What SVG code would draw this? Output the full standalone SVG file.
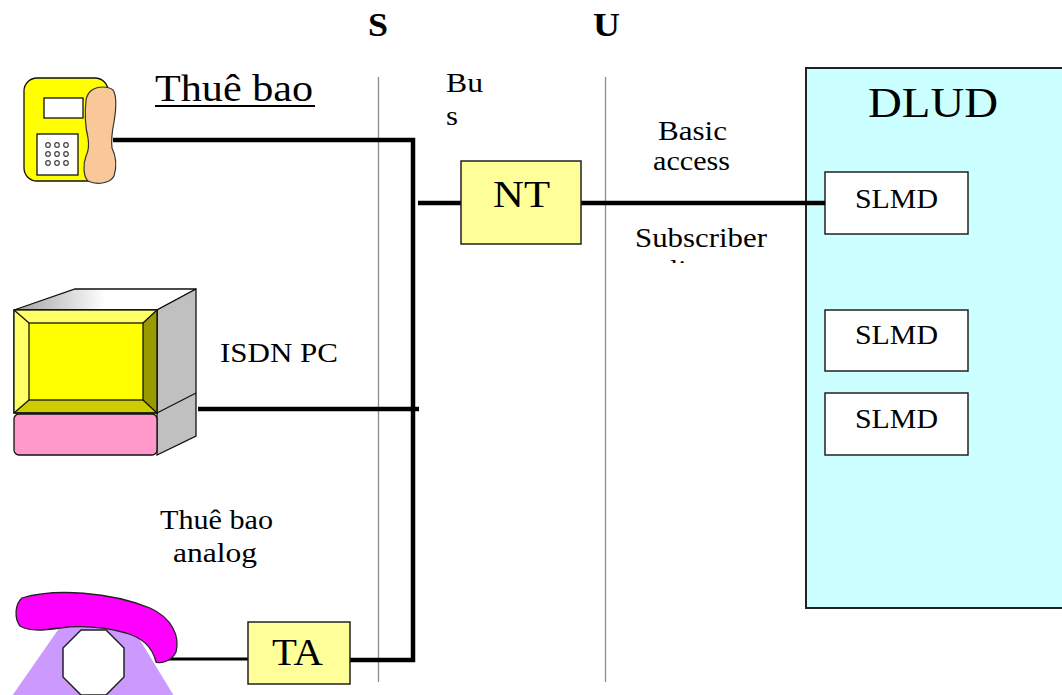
<svg xmlns="http://www.w3.org/2000/svg" width="1062" height="695" viewBox="0 0 1062 695">
  <style>
    text { font-family: "Liberation Serif", "Times New Roman", "DejaVu Serif", serif; fill: #000; }
    .lbl { font-size: 27px; }
    .ref { stroke: #8c8c8c; stroke-width: 1.3; fill: none; }
    .bus { stroke: #000; stroke-width: 4.5; fill: none; }
    .box { fill: #ffff99; stroke: #222; stroke-width: 1.5; }
    .slmd { fill: #fff; stroke: #222; stroke-width: 1.5; }
    .ol { stroke: #111; stroke-width: 1.3; }
  </style>
  <defs>
    <linearGradient id="topFace" x1="0" y1="0" x2="1" y2="0">
      <stop offset="0" stop-color="#a0a0a0"/>
      <stop offset="0.5" stop-color="#ffffff"/>
      <stop offset="1" stop-color="#ffffff"/>
    </linearGradient>
    <clipPath id="cutLine">
      <rect x="600" y="254" width="200" height="9"/>
    </clipPath>
  </defs>

  <rect width="1062" height="695" fill="#fff"/>

  <!-- reference points S and U -->
  <g id="refpoints">
    <text x="368" y="36" font-size="33" font-weight="bold" textLength="20" lengthAdjust="spacingAndGlyphs">S</text>
    <text x="593" y="36" font-size="33" font-weight="bold" textLength="27" lengthAdjust="spacingAndGlyphs">U</text>
    <line class="ref" x1="378.5" y1="77" x2="378.5" y2="682"/>
    <line class="ref" x1="605.5" y1="77" x2="605.5" y2="682"/>
  </g>

  <!-- DLUD exchange unit -->
  <g id="dlud">
    <rect x="806" y="68" width="262" height="540" fill="#ccffff" stroke="#222" stroke-width="2"/>
    <text x="868" y="117" font-size="42" textLength="130" lengthAdjust="spacingAndGlyphs">DLUD</text>
  </g>
  <g id="slmd1">
    <rect class="slmd" x="825" y="172" width="143" height="62"/>
    <text class="lbl" x="855" y="208" textLength="83" lengthAdjust="spacingAndGlyphs">SLMD</text>
  </g>
  <g id="slmd2">
    <rect class="slmd" x="825" y="310" width="143" height="61"/>
    <text class="lbl" x="855" y="344" textLength="83" lengthAdjust="spacingAndGlyphs">SLMD</text>
  </g>
  <g id="slmd3">
    <rect class="slmd" x="825" y="393" width="143" height="62"/>
    <text class="lbl" x="855" y="428" textLength="83" lengthAdjust="spacingAndGlyphs">SLMD</text>
  </g>

  <!-- connectors -->
  <g id="connectors">
    <polyline class="bus" points="113,140 413,140 413,660 350,660"/>
    <line class="bus" x1="418" y1="203" x2="461" y2="203"/>
    <line class="bus" x1="581" y1="203" x2="825" y2="203"/>
    <line class="bus" x1="198" y1="409" x2="419" y2="409"/>
    <line stroke="#000" stroke-width="3" x1="160" y1="659" x2="250" y2="659"/>
  </g>

  <g id="nt">
    <rect class="box" x="461" y="161" width="120" height="83"/>
    <text x="493" y="207" font-size="37" textLength="57" lengthAdjust="spacingAndGlyphs">NT</text>
  </g>
  <g id="ta">
    <rect class="box" x="248" y="622" width="102" height="62"/>
    <text x="272" y="665" font-size="37" textLength="51" lengthAdjust="spacingAndGlyphs">TA</text>
  </g>

  <!-- labels -->
  <g id="labels">
    <text x="155" y="101" font-size="38" textLength="158" lengthAdjust="spacingAndGlyphs">Thuê bao</text>
    <line x1="155" y1="106" x2="315" y2="106" stroke="#000" stroke-width="1.8"/>
    <text class="lbl" x="446" y="92" textLength="37" lengthAdjust="spacingAndGlyphs">Bu</text>
    <text class="lbl" x="446" y="125" textLength="12" lengthAdjust="spacingAndGlyphs">s</text>
    <text class="lbl" x="658" y="140" textLength="69" lengthAdjust="spacingAndGlyphs">Basic</text>
    <text class="lbl" x="653" y="170" textLength="77" lengthAdjust="spacingAndGlyphs">access</text>
    <text class="lbl" x="635" y="247" textLength="132" lengthAdjust="spacingAndGlyphs">Subscriber</text>
    <text class="lbl" x="670" y="279" textLength="44" lengthAdjust="spacingAndGlyphs" clip-path="url(#cutLine)">line</text>
    <text class="lbl" x="220" y="362" textLength="118" lengthAdjust="spacingAndGlyphs">ISDN PC</text>
    <text class="lbl" x="160" y="529" textLength="113" lengthAdjust="spacingAndGlyphs">Thuê bao</text>
    <text class="lbl" x="173" y="562" textLength="84" lengthAdjust="spacingAndGlyphs">analog</text>
  </g>

  <!-- digital telephone -->
  <g id="isdn-phone">
    <rect x="24" y="78" width="84" height="103" rx="13" fill="#ffff00" class="ol"/>
    <rect x="44" y="98" width="39" height="20" fill="#fff" class="ol"/>
    <rect x="37" y="134" width="41" height="41" fill="#fff" class="ol"/>
    <g fill="none" stroke="#444" stroke-width="1.2">
      <circle cx="48" cy="145" r="2.3"/><circle cx="57" cy="145" r="2.3"/><circle cx="66" cy="145" r="2.3"/>
      <circle cx="48" cy="154" r="2.3"/><circle cx="57" cy="154" r="2.3"/><circle cx="66" cy="154" r="2.3"/>
      <circle cx="48" cy="163" r="2.3"/><circle cx="57" cy="163" r="2.3"/><circle cx="66" cy="163" r="2.3"/>
    </g>
    <path d="M92,90 C98,86 108,86 113,90 C117,96 116,110 114,122 C112,132 111,140 112,148 C116,156 117,166 114,176 C110,184 96,185 88,181 C83,176 83,164 86,156 C89,150 89,144 88,138 C85,126 85,110 86,100 C87,95 89,92 92,90 Z" fill="#f8c898" stroke="#333" stroke-width="1.2"/>
  </g>

  <!-- ISDN PC -->
  <g id="isdn-pc">
    <polygon points="14,310 75,289 196,289 157,310" fill="url(#topFace)" class="ol"/>
    <polygon points="157,310 196,289 196,436 157,455" fill="#c0c0c0" class="ol"/>
    <line class="ol" x1="157" y1="413" x2="196" y2="393"/>
    <rect x="14" y="414" width="143" height="41" rx="5" fill="#ff99cc" class="ol"/>
    <rect x="14" y="310" width="143" height="103" fill="#cccc00" class="ol"/>
    <polygon points="14,310 157,310 143,323 29,323" fill="#ffff66"/>
    <polygon points="14,310 29,323 29,400 14,413" fill="#ffff66"/>
    <polygon points="157,310 157,413 143,400 143,323" fill="#999900"/>
    <rect x="14" y="310" width="143" height="103" fill="none" class="ol"/>
    <g class="ol" fill="none">
      <line x1="14" y1="310" x2="29" y2="323"/><line x1="157" y1="310" x2="143" y2="323"/>
      <line x1="14" y1="413" x2="29" y2="400"/><line x1="157" y1="413" x2="143" y2="400"/>
    </g>
    <rect x="29" y="323" width="114" height="77" fill="#ffff00" class="ol"/>
  </g>

  <!-- analog telephone -->
  <g id="analog-phone">
    <polygon points="12,696 60,627 132,627 174,696" fill="#cc99ff"/>
    <polygon points="81,630 106,630 124,648 124,677 106,695 81,695 63,677 63,648" fill="#fff" stroke="#222" stroke-width="1.5"/>
    <path d="M22,598 C55,588 110,592 150,608 C172,618 180,636 176,652 C172,660 163,664 156,662 C152,646 142,638 126,633 C100,626 75,626 60,628 C45,630 30,632 20,626 C14,618 15,604 22,598 Z" fill="#ff00ff" stroke="#222" stroke-width="1.3"/>
  </g>
</svg>
